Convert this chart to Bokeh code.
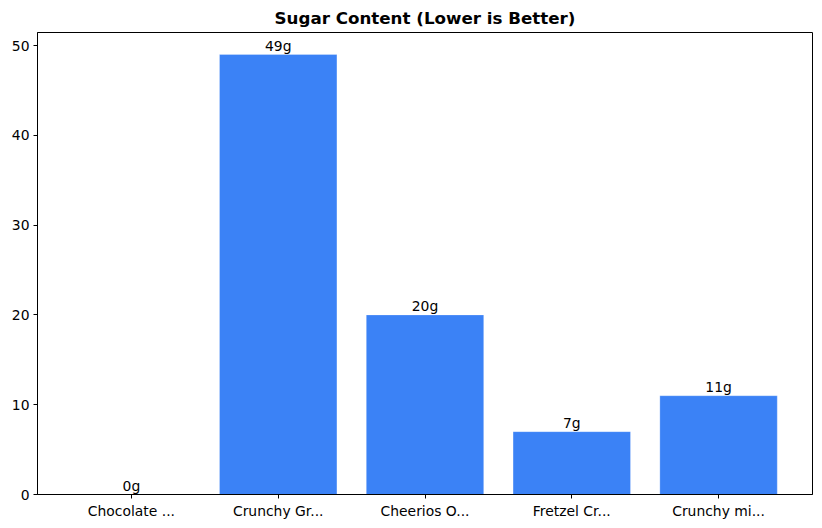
from bokeh.plotting import figure
from bokeh.models import FactorRange, Range1d, SingleIntervalTicker, ColumnDataSource
from bokeh.embed import file_html
from bokeh.resources import INLINE

categories = ["Chocolate ...", "Crunchy Gr...", "Cheerios O...", "Fretzel Cr...", "Crunchy mi..."]
sugar = [0, 49, 20, 7, 11]
labels = [f"{v}g" for v in sugar]

src = ColumnDataSource(dict(cat=categories, val=sugar, lab=labels))

p = figure(
    x_range=FactorRange(factors=categories, range_padding=0.14, range_padding_units="absolute"),
    y_range=Range1d(0, 51.45),
    frame_width=775, frame_height=462,
    output_backend="svg", toolbar_location=None,
    title="Sugar Content (Lower is Better)",
)
p.min_border_left = 37
p.min_border_right = 2
p.min_border_top = 24
p.min_border_bottom = 26
p.background_fill_color = "white"
p.border_fill_color = "white"
p.outline_line_color = "black"
p.outline_line_width = 1

p.title.text_font = "DejaVu Sans"
p.title.text_font_size = "16.7px"
p.title.text_font_style = "bold"
p.title.align = "center"
p.title.text_color = "black"

p.vbar(x="cat", top="val", width=0.8, source=src, fill_color="#3b82f6",
       line_color="white", line_alpha=0.25, line_width=1)
p.text(x="cat", y="val", text="lab", source=src, text_align="center",
       text_baseline="bottom", text_font_size="13.9px", text_color="black",
       y_offset=-1, text_font={"value": "DejaVu Sans"})

p.xgrid.visible = False
p.ygrid.visible = False
p.yaxis.ticker = SingleIntervalTicker(interval=10)
for ax in (p.xaxis, p.yaxis):
    ax.axis_line_color = "black"
    ax.major_tick_line_color = "black"
    ax.major_tick_out = 4
    ax.major_tick_in = 0
    ax.minor_tick_line_color = None
    ax.major_label_text_font = "DejaVu Sans"
    ax.major_label_text_font_size = "13.9px"
    ax.major_label_text_color = "black"
    ax.major_label_standoff = 4

open("out.html", "w").write(file_html(p, INLINE))
